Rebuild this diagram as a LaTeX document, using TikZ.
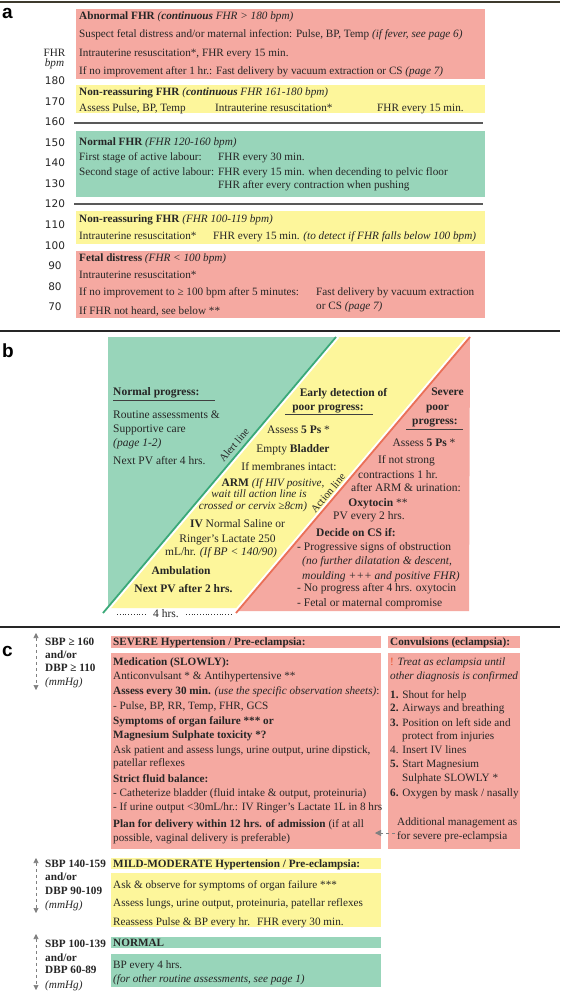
\documentclass[tikz,border=0pt]{standalone}
\usepackage{fontspec}
\setmainfont{Liberation Serif}
\newfontfamily\axisfont{DejaVu Sans}
\newfontfamily\panelfont{Liberation Sans}
\usetikzlibrary{arrows.meta}
\definecolor{cred}{HTML}{F5A9A1}
\definecolor{cyel}{HTML}{FDF69B}
\definecolor{cgrn}{HTML}{98D5BA}
\definecolor{alertc}{HTML}{3AA978}
\definecolor{actc}{HTML}{EA7058}
\definecolor{txtc}{HTML}{262626}
\definecolor{excl}{HTML}{E8502A}
\newcounter{tn}
\newcommand\fs{\fontsize{11.2}{13}\selectfont}
\newcommand\fsb{\fontsize{11.5}{13}\selectfont}
\newcommand\fsr{\fontsize{10.6}{12}\selectfont}
\newcommand\TL[3]{\stepcounter{tn}\edef\tnm{t\arabic{tn}}\node[tl] (\tnm) at (#1,#2) {#3};}
\newcommand\TC[3]{\stepcounter{tn}\edef\tnm{t\arabic{tn}}\node[tc] (\tnm) at (#1,#2) {#3};}
\newcommand\AX[2]{\stepcounter{tn}\edef\tnm{t\arabic{tn}}\node[axl] (\tnm) at (55,#1) {#2};}
\tikzset{
  tl/.style={anchor=base west, inner sep=0pt, text=txtc},
  tc/.style={anchor=base, inner sep=0pt, text=txtc},
  rotl/.style={anchor=center, inner sep=0pt, text=txtc, rotate=50, font=\fsr},
  axl/.style={anchor=base, inner sep=0pt, text=txtc, font=\axisfont\fontsize{10.5}{12}\selectfont},
  panel/.style={anchor=base west, inner sep=0pt, text=black, font=\panelfont\bfseries\fontsize{19}{20}\selectfont},
  sep/.style={line width=1.1pt, black!85},
  gline/.style={line width=2pt, black!65},
  uline/.style={line width=0.9pt, black!75},
  bparr/.style={gray, dashed, line width=0.6pt, {Triangle[length=5pt,width=5pt]}-{Triangle[length=5pt,width=5pt]}},
}
\begin{document}
\begin{tikzpicture}[x=1pt,y=-1pt,font=\fs]
\useasboundingbox (0,0) rectangle (560,992);
\fill[white] (0,0) rectangle (560,992);
% separators
\coordinate (s0a) at (0,2); \coordinate (s0b) at (560,2);
\draw[line width=2pt, black!75!olive] (s0a) -- (s0b);
\coordinate (s1a) at (0,331); \coordinate (s1b) at (560,331);
\draw[sep] (s1a) -- (s1b);
\coordinate (s2a) at (0,627); \coordinate (s2b) at (560,627);
\draw[sep] (s2a) -- (s2b);
\node[panel] (pa) at (2,19) {a};
\node[panel] (pb) at (2,357) {b};
\node[panel] (pc) at (2,656) {c};

% ================= panel a =================
\fill[cred] (76,9) rectangle (485,79);
\fill[cyel] (76,85) rectangle (485,113);
\fill[cgrn] (76,131) rectangle (485,197);
\fill[cyel] (76,211) rectangle (485,244);
\fill[cred] (76,251) rectangle (485,318);
\coordinate (g1a) at (74,123); \coordinate (g1b) at (483,123);
\draw[gline] (g1a) -- (g1b);
\coordinate (g2a) at (74,204); \coordinate (g2b) at (483,204);
\draw[gline] (g2a) -- (g2b);

\TC{54.5}{56.5}{FHR}
\TC{54.5}{66.5}{\itshape bpm}
\AX{85}{180}\AX{105.5}{170}\AX{126}{160}\AX{146.5}{150}\AX{167}{140}\AX{187.5}{130}
\AX{208}{120}\AX{228.5}{110}\AX{249}{100}\AX{269.5}{90}\AX{290}{80}\AX{310.5}{70}

\TL{79}{20}{\bfseries Abnormal FHR \mdseries\itshape(\bfseries continuous \mdseries FHR > 180 bpm)}
\TL{79}{37.5}{Suspect fetal distress and/or maternal infection: Pulse, BP, Temp \textit{(if fever, see page 6)}}
\TL{79}{56.5}{Intrauterine resuscitation*, FHR every 15 min.}
\TL{79}{74.5}{If no improvement after 1 hr.: Fast delivery by vacuum extraction or CS \textit{(page 7)}}

\TL{79}{95.5}{\bfseries Non-reassuring FHR \mdseries\itshape(\bfseries continuous \mdseries FHR 161-180 bpm)}
\TL{79}{111.5}{Assess Pulse, BP, Temp}
\TL{215}{111.5}{Intrauterine resuscitation*}
\TL{377}{111.5}{FHR every 15 min.}

\TL{79}{145.5}{\bfseries Normal FHR \mdseries\itshape(FHR 120-160 bpm)}
\TL{79}{160.5}{First stage of active labour:}
\TL{218}{160.5}{FHR every 30 min.}
\TL{79}{175.5}{Second stage of active labour:}
\TL{218}{175.5}{FHR every 15 min. when decending to pelvic floor}
\TL{218}{188.5}{FHR after every contraction when pushing}

\TL{79}{222.5}{\bfseries Non-reassuring FHR \mdseries\itshape(FHR 100-119 bpm)}
\TL{79}{239.5}{Intrauterine resuscitation*}
\TL{213}{239.5}{FHR every 15 min. \textit{(to detect if FHR falls below 100 bpm)}}

\TL{79}{261.5}{\bfseries Fetal distress \mdseries\itshape(FHR < 100 bpm)}
\TL{79}{278.5}{Intrauterine resuscitation*}
\TL{79}{295.5}{If no improvement to ≥ 100 bpm after 5 minutes:}
\TL{316}{295.5}{Fast delivery by vacuum extraction}
\TL{316}{309.5}{or CS \textit{(page 7)}}
\TL{79}{314.5}{If FHR not heard, see below **}

% ================= panel b =================
\begin{scope}[font=\fsb]
\fill[cgrn] (108,337) -- (335,337) -- (108,607) -- cycle;
\fill[cyel] (336,337) -- (469,337) -- (239,608) -- (107,608) -- cycle;
\fill[cred] (470,337) -- (469,611) -- (237,611) -- cycle;
% alert line
\coordinate (al1) at (336,337); \coordinate (al2) at (103,613);
\draw[white, line width=2.5pt, transform canvas={xshift=2.2pt}] (al1) -- (al2);
\draw[alertc, line width=1.8pt] (al1) -- (al2);
% action line
\coordinate (ac1) at (470,337); \coordinate (ac2) at (236,613);
\draw[white, line width=2.5pt, transform canvas={xshift=-2.2pt}] (ac1) -- (ac2);
\draw[actc, line width=1.8pt] (ac1) -- (ac2);
\node[rotl] (alertlbl) at (234,445) {Alert line};
\node[rotl] (actionlbl) at (328,493) {Action line};

% left: normal progress
\TL{113}{395.5}{\bfseries Normal progress:}
\coordinate (u1a) at (113,400); \coordinate (u1b) at (215,400);
\draw[uline] (u1a) -- (u1b);
\TL{113}{418.5}{Routine assessments \&}
\TL{113}{432.5}{Supportive care}
\TL{113}{446.5}{\itshape (page 1-2)}
\TL{113}{464.5}{Next PV after 4 hrs.}

% middle
\TC{343.5}{396}{\bfseries Early detection of}
\TC{328}{410.5}{\bfseries poor progress:}
\coordinate (u2a) at (285,414.5); \coordinate (u2b) at (373,414.5);
\draw[uline] (u2a) -- (u2b);
\TC{298.5}{433.5}{Assess \textbf{5 Ps} *}
\TC{293}{452.5}{Empty \textbf{Bladder}}
\TC{289}{470}{If membranes intact:}
\TC{273}{486}{\textbf{ARM} \textit{\fs (If HIV positive,}}
\TC{259}{497.5}{\itshape\fs wait till action line is}
\TC{253}{509.5}{\itshape\fs crossed or cervix ≥8cm)}
\TC{237.5}{527.5}{\textbf{IV} Normal Saline or}
\TC{227.5}{542}{Ringer's Lactate 250}
\TC{221}{555.5}{mL/hr. \textit{(If BP < 140/90)}}
\TC{181}{574}{\bfseries Ambulation}
\TC{183.5}{592.5}{\bfseries Next PV after 2 hrs.}

% right
\TC{447.5}{395.5}{\bfseries Severe}
\TC{437.5}{410}{\bfseries poor}
\TC{435}{424}{\bfseries progress:}
\coordinate (u3a) at (406,429); \coordinate (u3b) at (463,429);
\draw[uline] (u3a) -- (u3b);
\TC{424}{446.5}{Assess \textbf{5 Ps} *}
\TC{406.5}{463.5}{If not strong}
\TC{398}{478.5}{contractions 1 hr.}
\TC{406}{491}{after ARM \& urination:}
\TC{378}{506}{\textbf{Oxytocin} **}
\TC{369}{519}{PV every 2 hrs.}
\TC{356}{536.5}{\bfseries Decide on CS if:}
\TL{297}{550.5}{- Progressive signs of obstruction}
\TL{302}{564.5}{\itshape (no further dilatation \& descent,}
\TL{302}{579}{\itshape moulding +++ and positive FHR)}
\TL{297}{591.5}{- No progress after 4 hrs. oxytocin}
\TL{297}{606}{- Fetal or maternal compromise}

% 4 hrs
\TC{166}{617.5}{4 hrs.}
\coordinate (d1a) at (117,614.5); \coordinate (d1b) at (147,614.5);
\coordinate (d2a) at (186,614.5); \coordinate (d2b) at (232,614.5);
\draw[dotted, line width=0.8pt, black!80] (d1a) -- (d1b);
\draw[dotted, line width=0.8pt, black!80] (d2a) -- (d2b);
\end{scope}

% ================= panel c =================
% severe
\coordinate (ar1t) at (36,633); \coordinate (ar1b) at (36,690);
\draw[bparr] (ar1t) -- (ar1b);
\TL{45}{645.5}{\bfseries SBP ≥ 160}
\TL{45}{658.5}{\bfseries and/or}
\TL{45}{671.5}{\bfseries DBP ≥ 110}
\TL{45}{685.5}{\itshape (mmHg)}

\fill[cred] (111,636) rectangle (381,648);
\fill[cred] (388,636) rectangle (520,648);
\fill[cred] (111,653) rectangle (381,849);
\fill[cred] (388,653) rectangle (520,849);
\TL{113}{645.5}{\bfseries SEVERE Hypertension / Pre-eclampsia:}
\TL{390}{645.5}{\bfseries Convulsions (eclampsia):}

\TL{113}{665.5}{\bfseries Medication (SLOWLY):}
\TL{113}{679.5}{Anticonvulsant * \& Antihypertensive **}
\TL{113}{694.5}{\textbf{Assess every 30 min.} \textit{(use the specific observation sheets)}:}
\TL{113}{709.5}{- Pulse, BP, RR, Temp, FHR, GCS}
\TL{113}{724.5}{\bfseries Symptoms of organ failure *** or}
\TL{113}{738.5}{\bfseries Magnesium Sulphate toxicity *?}
\TL{113}{753.5}{Ask patient and assess lungs, urine output, urine dipstick,}
\TL{113}{766.5}{patellar reflexes}
\TL{113}{782.5}{\bfseries Strict fluid balance:}
\TL{113}{796.5}{- Catheterize bladder (fluid intake \& output, proteinuria)}
\TL{113}{810.5}{- If urine output <30mL/hr.: IV Ringer's Lactate 1L in 8 hrs}
\TL{113}{827.5}{\textbf{Plan for delivery within 12 hrs. of admission} (if at all}
\TL{113}{841.5}{possible, vaginal delivery is preferable)}

\TL{390}{665.5}{\textcolor{excl}{!} \itshape Treat as eclampsia until}
\TL{390}{679.5}{\itshape other diagnosis is confirmed}
\TL{390}{698.5}{\textbf{1.} Shout for help}
\TL{390}{711.5}{\textbf{2.} Airways and breathing}
\TL{390}{726.5}{\textbf{3.} Position on left side and}
\TL{402}{739.5}{protect from injuries}
\TL{390}{753.5}{4. Insert IV lines}
\TL{390}{767.5}{\textbf{5.} Start Magnesium}
\TL{402}{781.5}{Sulphate SLOWLY *}
\TL{390}{796.5}{\textbf{6.} Oxygen by mask / nasally}
\TL{397}{825.5}{Additional management as}
\TL{397}{839.5}{for severe pre-eclampsia}
\coordinate (dar1) at (395,833); \coordinate (dar2) at (375,833);
\draw[gray, dashed, line width=0.6pt, -{Triangle[length=6pt,width=6pt]}] (dar1) -- (dar2);

% mild
\coordinate (ar2t) at (36,858); \coordinate (ar2b) at (36,913);
\draw[bparr] (ar2t) -- (ar2b);
\TL{45}{867.5}{\bfseries SBP 140-159}
\TL{45}{880.5}{\bfseries and/or}
\TL{45}{894.5}{\bfseries DBP 90-109}
\TL{45}{908.5}{\itshape (mmHg)}
\fill[cyel] (111,858) rectangle (381,869);
\fill[cyel] (111,873) rectangle (381,927);
\TL{113}{867.5}{\bfseries MILD-MODERATE Hypertension / Pre-eclampsia:}
\TL{113}{888.5}{Ask \& observe for symptoms of organ failure ***}
\TL{113}{906.5}{Assess lungs, urine output, proteinuria, patellar reflexes}
\TL{113}{925}{Reassess Pulse \& BP every hr.}
\TL{257}{925}{FHR every 30 min.}

% normal
\coordinate (ar3t) at (36,934); \coordinate (ar3b) at (36,990);
\draw[bparr] (ar3t) -- (ar3b);
\TL{45}{947.5}{\bfseries SBP 100-139}
\TL{45}{961}{\bfseries and/or}
\TL{45}{973.5}{\bfseries DBP 60-89}
\TL{45}{988.5}{\itshape (mmHg)}
\fill[cgrn] (111,937) rectangle (381,948);
\fill[cgrn] (111,954) rectangle (381,987);
\TL{113}{946.5}{\bfseries NORMAL}
\TL{113}{968}{BP every 4 hrs.}
\TL{113}{982}{\itshape (for other routine assessments, see page 1)}
\end{tikzpicture}
\end{document}
